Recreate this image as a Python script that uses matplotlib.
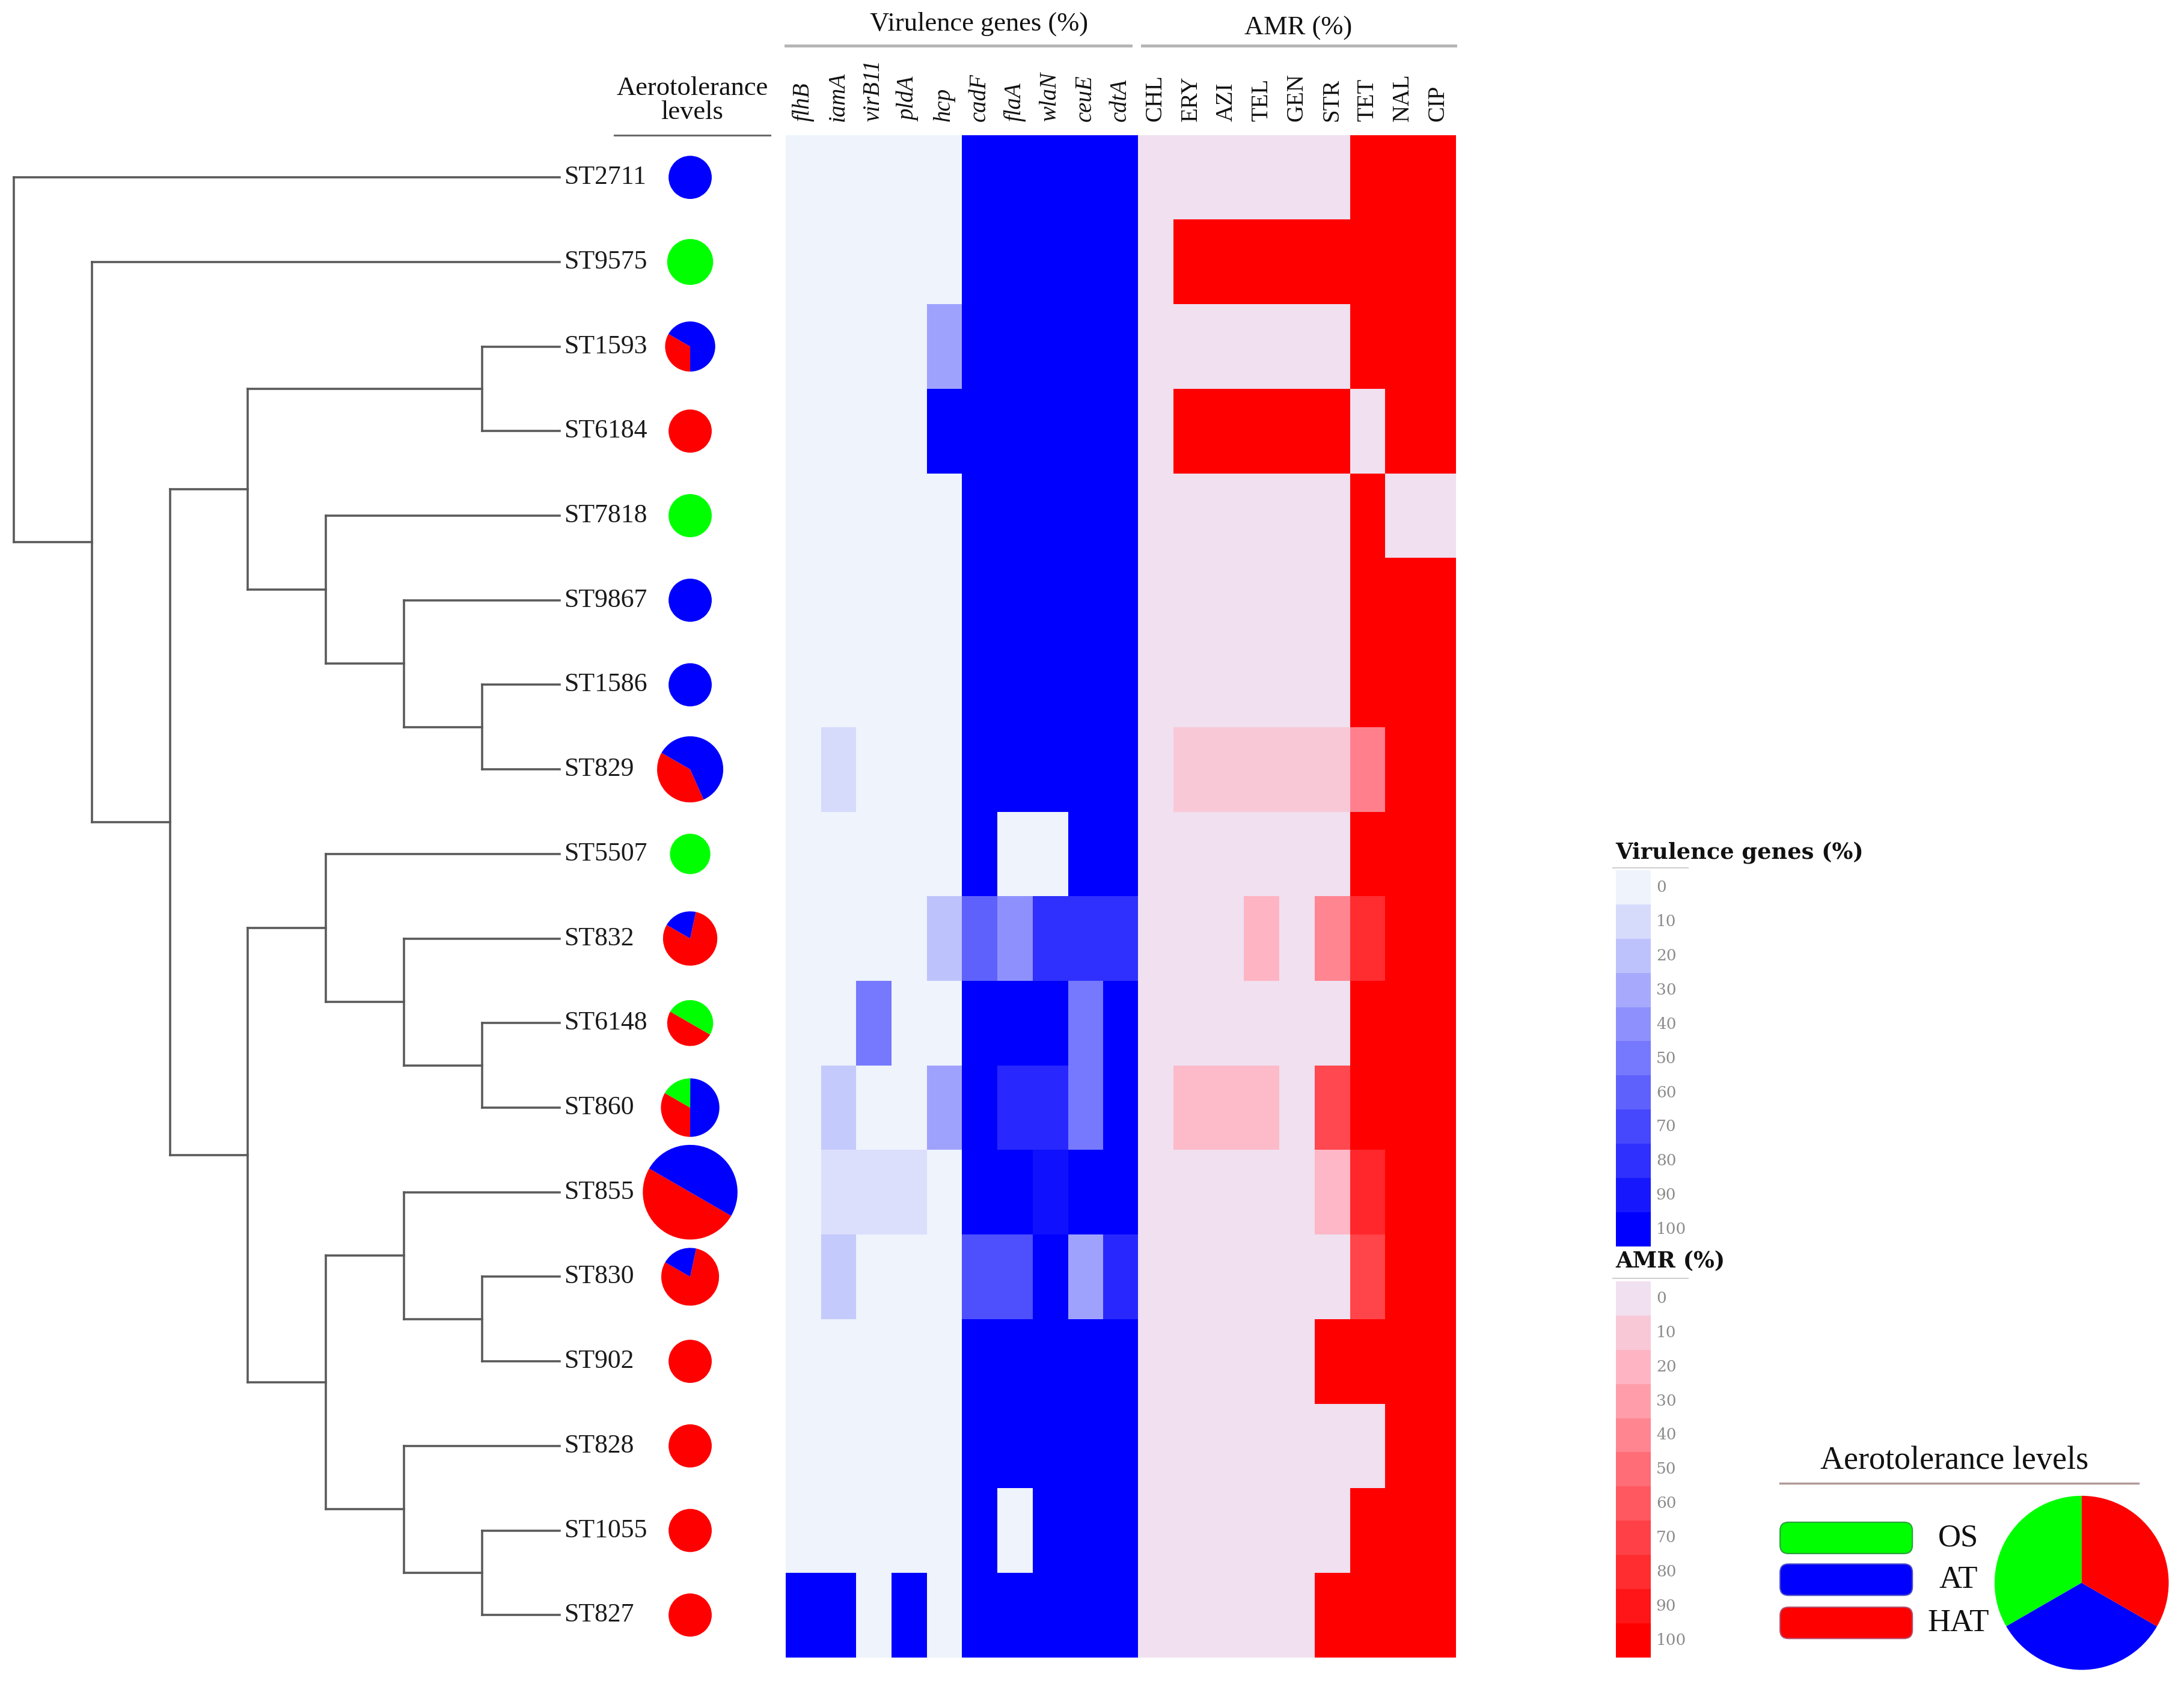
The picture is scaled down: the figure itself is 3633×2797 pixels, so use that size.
import matplotlib
matplotlib.use('Agg')
import matplotlib.pyplot as plt
import numpy as np
from matplotlib.colors import LinearSegmentedColormap
from matplotlib.patches import FancyBboxPatch
from matplotlib.lines import Line2D

# ---------------- DATA ----------------
sts = ['ST2711', 'ST9575', 'ST1593', 'ST6184', 'ST7818', 'ST9867', 'ST1586', 'ST829',
       'ST5507', 'ST832', 'ST6148', 'ST860', 'ST855', 'ST830', 'ST902', 'ST828',
       'ST1055', 'ST827']

vir_genes = ['flhB', 'iamA', 'virB11', 'pldA', 'hcp', 'cadF', 'flaA', 'wlaN', 'ceuE', 'cdtA']
amr_drugs = ['CHL', 'ERY', 'AZI', 'TEL', 'GEN', 'STR', 'TET', 'NAL', 'CIP']

vir_values = [
    [0, 0, 0, 0, 0, 100, 100, 100, 100, 100],
    [0, 0, 0, 0, 0, 100, 100, 100, 100, 100],
    [0, 0, 0, 0, 33, 100, 100, 100, 100, 100],
    [0, 0, 0, 0, 100, 100, 100, 100, 100, 100],
    [0, 0, 0, 0, 0, 100, 100, 100, 100, 100],
    [0, 0, 0, 0, 0, 100, 100, 100, 100, 100],
    [0, 0, 0, 0, 0, 100, 100, 100, 100, 100],
    [0, 10, 0, 0, 0, 100, 100, 100, 100, 100],
    [0, 0, 0, 0, 0, 100, 0, 0, 100, 100],
    [0, 0, 0, 0, 20, 60, 40, 80, 80, 80],
    [0, 0, 50, 0, 0, 100, 100, 100, 50, 100],
    [0, 17, 0, 0, 33, 100, 83, 83, 50, 100],
    [0, 8, 8, 8, 0, 100, 100, 93, 100, 100],
    [0, 17, 0, 0, 0, 67, 67, 100, 33, 83],
    [0, 0, 0, 0, 0, 100, 100, 100, 100, 100],
    [0, 0, 0, 0, 0, 100, 100, 100, 100, 100],
    [0, 0, 0, 0, 0, 100, 0, 100, 100, 100],
    [100, 100, 0, 100, 0, 100, 100, 100, 100, 100],
]

amr_values = [
    [0, 0, 0, 0, 0, 0, 100, 100, 100],
    [0, 100, 100, 100, 100, 100, 100, 100, 100],
    [0, 0, 0, 0, 0, 0, 100, 100, 100],
    [0, 100, 100, 100, 100, 100, 0, 100, 100],
    [0, 0, 0, 0, 0, 0, 100, 0, 0],
    [0, 0, 0, 0, 0, 0, 100, 100, 100],
    [0, 0, 0, 0, 0, 0, 100, 100, 100],
    [0, 10, 10, 10, 10, 10, 42, 100, 100],
    [0, 0, 0, 0, 0, 0, 100, 100, 100],
    [0, 0, 0, 20, 0, 40, 80, 100, 100],
    [0, 0, 0, 0, 0, 0, 100, 100, 100],
    [0, 17, 17, 17, 0, 67, 100, 100, 100],
    [0, 0, 0, 0, 0, 18, 82, 100, 100],
    [0, 0, 0, 0, 0, 0, 69, 100, 100],
    [0, 0, 0, 0, 0, 100, 100, 100, 100],
    [0, 0, 0, 0, 0, 0, 0, 100, 100],
    [0, 0, 0, 0, 0, 0, 100, 100, 100],
    [0, 0, 0, 0, 0, 100, 100, 100, 100],
]

# aerotolerance composition (%) per ST
aero_os = [0, 100, 0, 0, 100, 0, 0, 0, 100, 0, 50, 16.7, 0, 0, 0, 0, 0, 0]
aero_at = [100, 0, 66.7, 0, 0, 100, 100, 60, 0, 20, 0, 50, 50, 20, 0, 0, 0, 0]
aero_hat = [0, 0, 33.3, 100, 0, 0, 0, 40, 0, 80, 50, 33.3, 50, 80, 100, 100, 100, 100]
# relative pie size (number of isolates encoded as diameter)
pie_size = [31, 33, 36, 31, 31, 31, 31, 47.5, 29, 39, 33, 42, 68, 41.5, 31, 31, 31, 31]

aero_levels = ['OS', 'AT', 'HAT']

# cladogram topology (leaf indices into sts)
tree = (0, (1, (((2, 3), (4, (5, (6, 7)))),
                ((8, (9, (10, 11))), ((12, (13, 14)), (15, (16, 17)))))))

cbar_ticks = [0, 10, 20, 30, 40, 50, 60, 70, 80, 90, 100]

# ---------------- STYLE / LAYOUT ----------------
W, H = 1568.0, 1207.0
fig = plt.figure(figsize=(36.33, 27.97), dpi=100)
SERIF = ['Liberation Serif', 'DejaVu Serif']
GREEN, BLUE, RED = '#00ff00', '#0000ff', '#ff0000'

def box(x0, y0, x1, y1):
    return [x0 / W, 1 - y1 / H, (x1 - x0) / W, (y1 - y0) / H]

def fx(x):
    return x / W

def fy(y):
    return 1 - y / H

vir_cmap = LinearSegmentedColormap.from_list('vir', ['#eef3fc', BLUE])
amr_cmap = LinearSegmentedColormap.from_list(
    'amr', [(0.0, '#f0e0f0'), (0.1, '#fac8d7'), (0.2, '#ffb4c3'),
            (0.5, '#ff6e78'), (1.0, RED)])

HM_TOP, HM_BOT = 97, 1190
HM_L, HM_MID, HM_R = 564, 817, 1045
nrow = len(sts)

# heatmaps
axv = fig.add_axes(box(HM_L, HM_TOP, HM_MID, HM_BOT))
axv.imshow(np.array(vir_values), cmap=vir_cmap, vmin=0, vmax=100, aspect='auto',
           interpolation='nearest')
axv.axis('off')
axa = fig.add_axes(box(HM_MID, HM_TOP, HM_R, HM_BOT))
axa.imshow(np.array(amr_values), cmap=amr_cmap, vmin=0, vmax=100, aspect='auto',
           interpolation='nearest')
axa.axis('off')

# column labels
cw_v = (HM_MID - HM_L) / len(vir_genes)
for j, g in enumerate(vir_genes):
    fig.text(fx(HM_L + (j + 0.5) * cw_v), fy(87), g, rotation=90, rotation_mode='anchor',
             ha='left', va='center', fontsize=28, style='italic', family=SERIF, color='#111111')
cw_a = (HM_R - HM_MID) / len(amr_drugs)
for j, d in enumerate(amr_drugs):
    fig.text(fx(HM_MID + (j + 0.5) * cw_a), fy(87), d, rotation=90, rotation_mode='anchor',
             ha='left', va='center', fontsize=28, family=SERIF, color='#111111')

# group headers
fig.text(fx(703), fy(17), 'Virulence genes (%)', ha='center', va='center', fontsize=32,
         family=SERIF, color='#111111')
fig.add_artist(Line2D([fx(564), fx(812)], [fy(33), fy(33)], color='#b4b4b4', lw=3.5))
fig.text(fx(932), fy(20), 'AMR (%)', ha='center', va='center', fontsize=32,
         family=SERIF, color='#111111')
fig.add_artist(Line2D([fx(820), fx(1045)], [fy(33), fy(33)], color='#b4b4b4', lw=3.5))

fig.text(fx(497), fy(72), 'Aerotolerance\nlevels', ha='center', va='center', fontsize=32,
         family=SERIF, color='#111111', linespacing=1.0)
fig.add_artist(Line2D([fx(441), fx(553)], [fy(97), fy(97)], color='#6a6a6a', lw=2.2))

# ---------------- tree ----------------
LEAF_X, STEP = 402.0, 56.0
axt = fig.add_axes(box(0, HM_TOP, 560, HM_BOT))
axt.set_xlim(LEAF_X / STEP, (LEAF_X - 560) / STEP)
axt.set_ylim(nrow, 0)
axt.axis('off')

def layout(node):
    """returns (height, y) and draws branches"""
    if isinstance(node, int):
        return 0.0, node + 0.5
    kids = [layout(c) for c in node]
    h = max(k[0] for k in kids) + 1
    ys = [k[1] for k in kids]
    y = (ys[0] + ys[-1]) / 2
    axt.plot([h, h], [ys[0], ys[-1]], color='#5a5a5a', lw=2.6, solid_capstyle='projecting')
    for kh, ky in kids:
        axt.plot([h, kh], [ky, ky], color='#5a5a5a', lw=2.6, solid_capstyle='projecting')
    return h, y

layout(tree)

for i, s in enumerate(sts):
    axt.text(-0.05, i + 0.5, s, ha='left', va='center', fontsize=31.5, family=SERIF,
             color='#1a1a1a')

# pies
row_h = (HM_BOT - HM_TOP) / nrow
PIE_X = 495.5
for i in range(nrow):
    cy = HM_TOP + (i + 0.5) * row_h
    d = pie_size[i]
    axp = fig.add_axes(box(PIE_X - d / 2, cy - d / 2, PIE_X + d / 2, cy + d / 2))
    vals = [aero_hat[i], aero_at[i], aero_os[i]]
    cols = [RED, BLUE, GREEN]
    v2 = [v for v in vals if v > 0]
    c2 = [c for v, c in zip(vals, cols) if v > 0]
    axp.pie(v2, colors=c2, startangle=150, counterclock=True,
            wedgeprops=dict(linewidth=0))
    axp.set_xlim(-1, 1)
    axp.set_ylim(-1, 1)
    axp.set_aspect('equal')
    axp.axis('off')

# ---------------- colour bars ----------------
def colorbar(title, cmap, y_title, y_line, y0, y1):
    fig.text(fx(1160), fy(y_title), title, ha='left', va='center', fontsize=26.5,
             fontweight='bold', family=['DejaVu Serif'], color='#111111')
    fig.add_artist(Line2D([fx(1158), fx(1212)], [fy(y_line), fy(y_line)],
                          color='#cfcfcf', lw=1.5))
    axc = fig.add_axes(box(1160, y0, 1185, y1))
    axc.imshow(np.array(cbar_ticks, dtype=float).reshape(-1, 1), cmap=cmap, vmin=0,
               vmax=100, aspect='auto', interpolation='nearest')
    axc.axis('off')
    bh = (y1 - y0) / len(cbar_ticks)
    for k, t in enumerate(cbar_ticks):
        fig.text(fx(1189), fy(y0 + (k + 0.5) * bh), str(t), ha='left', va='center',
                 fontsize=19, family=['DejaVu Serif'], color='#8c8c8c')

colorbar('Virulence genes (%)', vir_cmap, 612, 623, 625, 895)
colorbar('AMR (%)', amr_cmap, 906, 918, 920, 1190)

# ---------------- aerotolerance legend ----------------
fig.text(fx(1403), fy(1049), 'Aerotolerance levels', ha='center', va='center', fontsize=39,
         family=SERIF, color='#111111')
fig.add_artist(Line2D([fx(1278), fx(1535)], [fy(1065), fy(1065)], color='#b39a9a', lw=2.5))

axl = fig.add_axes(box(1260, 1080, 1440, 1190))
axl.set_xlim(1260, 1440)
axl.set_ylim(1190, 1080)
axl.axis('off')
leg_cols = [GREEN, BLUE, RED]
leg_edges = ['#2e9e3e', '#4b4bc8', '#b05070']
leg_y = [1093, 1123, 1154]
for lab, c, ec, y in zip(aero_levels, leg_cols, leg_edges, leg_y):
    axl.add_patch(FancyBboxPatch((1278, y), 95, 22.5,
                                 boxstyle='round,pad=0,rounding_size=6',
                                 facecolor=c, edgecolor=ec, lw=1.5))
    axl.text(1406, y + 11.5, lab, ha='center', va='center', fontsize=38, family=SERIF,
             color='#111111')

axlp = fig.add_axes(box(1432, 1074, 1557, 1199))
axlp.pie([1, 1, 1], colors=[GREEN, BLUE, RED], startangle=90, counterclock=True,
         wedgeprops=dict(linewidth=0))
axlp.set_xlim(-1, 1)
axlp.set_ylim(-1, 1)
axlp.set_aspect('equal')
axlp.axis('off')

fig.savefig('out.png', dpi=100)
